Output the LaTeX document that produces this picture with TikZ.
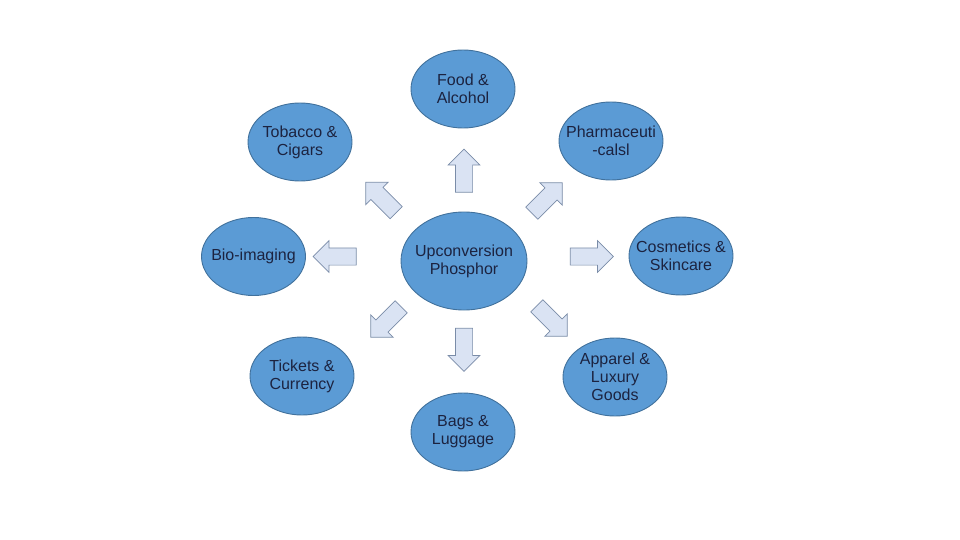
\documentclass[tikz,border=0pt]{standalone}
\usepackage{fontspec}
\setmainfont{Liberation Sans}
\usetikzlibrary{shapes.geometric,shapes.arrows}
\definecolor{appfill}{HTML}{5B9BD5}
\definecolor{appline}{HTML}{41719C}
\definecolor{apptext}{HTML}{1C2340}
\definecolor{arrfill}{HTML}{DAE3F3}
\definecolor{arrline}{HTML}{7A8CA8}
\begin{document}
\begin{tikzpicture}
        [x=1pt, y=-1pt,
        app/.style={ellipse, draw=appline, fill=appfill, line width=0.9pt, minimum width=104pt, minimum height=78pt, inner xsep=-14pt, inner ysep=-10pt, align=center, font=\fontsize{16}{18}\selectfont, text=apptext},
        core/.style={app, minimum width=126pt, minimum height=98pt},
        blockarrow/.style={single arrow, draw=arrline, fill=arrfill, line width=0.7pt, inner sep=8.25pt, minimum height=43pt, single arrow head extend=7.25pt, single arrow tip angle=90}]

        \useasboundingbox (0,0) rectangle (960,540);

        % Centre and the applications around it
        \node[core] (up) at (464,261) {Upconversion\\Phosphor};
        \node[app] (food) at (463,89) {Food \&\\Alcohol};
        \node[app] (tobacco) at (300,142) {Tobacco \&\\Cigars};
        \node[app] (pharma) at (611,141) {Pharmaceuti\\-calsl};
        \node[app] (cosmetics) at (681,256) {Cosmetics \&\\Skincare};
        \node[app] (bio) at (253.5,256.5) {Bio-imaging};
        \node[app] (tickets) at (302,376) {Tickets \&\\Currency};
        \node[app] (bags) at (463,432) {Bags \&\\Luggage};
        \node[app] (apparel) at (615,377) {Apparel \&\\Luxury\\Goods};

        % Block arrows pointing outwards
        \node[blockarrow, rotate=90] (toFood) at (464,175) {};
        \node[blockarrow, rotate=-90] (toBags) at (464,345.5) {};
        \node[blockarrow, rotate=180] (toBio) at (339,256.5) {};
        \node[blockarrow] (toCosmetics) at (587.5,256.5) {};
        \node[blockarrow, rotate=135] (toTobacco) at (384,200.5) {};
        \node[blockarrow, rotate=45] (toPharma) at (544,201) {};
        \node[blockarrow, rotate=-135] (toTickets) at (389,319) {};
        \node[blockarrow, rotate=-45] (toApparel) at (549,318) {};

    \end{tikzpicture}
\end{document}
